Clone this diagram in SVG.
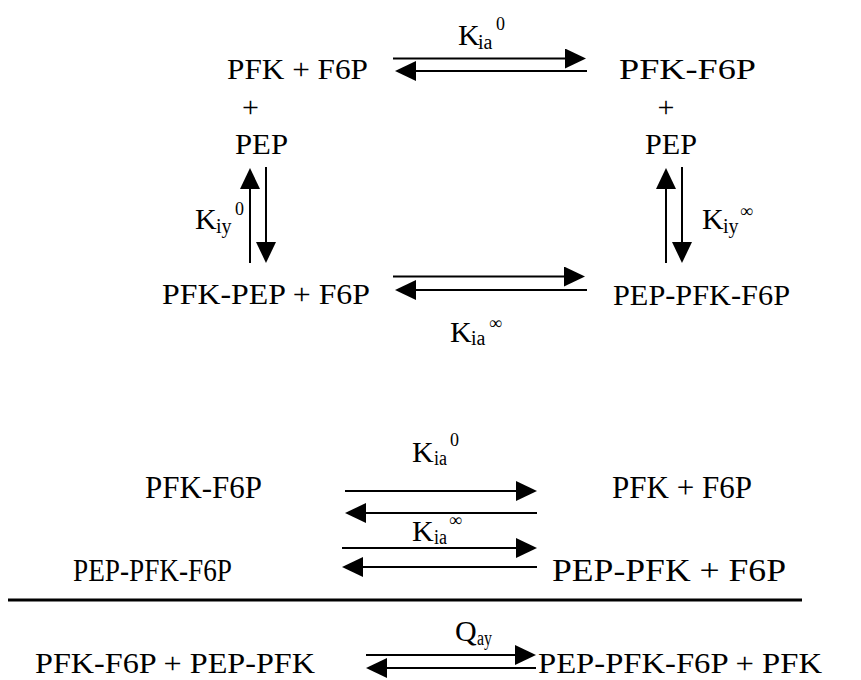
<svg xmlns="http://www.w3.org/2000/svg" width="861" height="680" viewBox="0 0 861 680">
<defs>
<style>
text{fill:#000;font-family:"Liberation Serif","Times New Roman",serif}
.t{font-size:30px}
.b{font-size:32px}
.s{font-size:20px}
.p{font-size:18px}
.c line{stroke:#000;stroke-width:2;fill:none}
</style>
<marker id="ah" markerUnits="userSpaceOnUse" viewBox="0 0 21 20" refX="6" refY="10" markerWidth="21" markerHeight="20" orient="auto">
<path d="M0,0 L21,10 L0,20 Z" fill="#000"/>
</marker>
</defs>
<rect width="861" height="680" fill="#fff"/>
<g id="n-pfk-f6p-top"><text class="t" x="227" y="79" textLength="141" lengthAdjust="spacingAndGlyphs">PFK + F6P</text></g>
<g id="n-pfkf6p-top"><text class="t" x="619" y="79" textLength="137" lengthAdjust="spacingAndGlyphs">PFK-F6P</text></g>
<g id="n-pep-left"><text class="t" x="250.5" y="116.5" text-anchor="middle">+</text><text class="t" x="235" y="154" textLength="53" lengthAdjust="spacingAndGlyphs">PEP</text></g>
<g id="n-pep-right"><text class="t" x="666" y="116.5" text-anchor="middle">+</text><text class="t" x="645" y="154" textLength="52" lengthAdjust="spacingAndGlyphs">PEP</text></g>
<g id="n-pfkpep-f6p"><text class="t" x="162" y="304" textLength="208" lengthAdjust="spacingAndGlyphs">PFK-PEP + F6P</text></g>
<g id="n-peppfkf6p"><text class="t" x="613" y="305" textLength="177" lengthAdjust="spacingAndGlyphs">PEP-PFK-F6P</text></g>

<g id="l-kia0-top"><text class="t" x="458" y="45">K</text><text class="s" x="478" y="49">ia</text><text class="p" x="496" y="30">0</text></g>
<g id="l-kiy0"><text class="t" x="195" y="229">K</text><text class="s" x="216" y="233">iy</text><text class="p" x="235" y="215">0</text></g>
<g id="l-kiyinf"><text class="t" x="702" y="229">K</text><text class="s" x="723" y="233">iy</text><text class="p" x="740" y="217">∞</text></g>
<g id="l-kiainf-top"><text class="t" x="450" y="342">K</text><text class="s" x="471" y="345">ia</text><text class="p" x="489" y="329">∞</text></g>

<g id="b-pfkf6p"><text class="b" x="145" y="498" textLength="117" lengthAdjust="spacingAndGlyphs">PFK-F6P</text></g>
<g id="b-pfk-f6p"><text class="b" x="612" y="498" textLength="140" lengthAdjust="spacingAndGlyphs">PFK + F6P</text></g>
<g id="b-peppfkf6p"><text class="b" x="73" y="581" textLength="159" lengthAdjust="spacingAndGlyphs">PEP-PFK-F6P</text></g>
<g id="b-peppfk-f6p"><text class="b" x="552" y="581" textLength="234" lengthAdjust="spacingAndGlyphs">PEP-PFK + F6P</text></g>
<g id="b-left-sum"><text class="t" x="35" y="673" textLength="280" lengthAdjust="spacingAndGlyphs">PFK-F6P + PEP-PFK</text></g>
<g id="b-right-sum"><text class="t" x="538" y="673" textLength="284" lengthAdjust="spacingAndGlyphs">PEP-PFK-F6P + PFK</text></g>
<g id="b-kia0"><text class="t" x="412" y="462">K</text><text class="s" x="434" y="465" textLength="13" lengthAdjust="spacingAndGlyphs">ia</text><text class="p" x="450" y="446">0</text></g>
<g id="b-kiainf"><text class="t" x="412" y="541">K</text><text class="s" x="434" y="544" textLength="13" lengthAdjust="spacingAndGlyphs">ia</text><text class="p" x="449" y="526">∞</text></g>
<g id="b-qay"><text class="t" x="455" y="641">Q</text><text class="s" x="477" y="645" textLength="15" lengthAdjust="spacingAndGlyphs">ay</text></g>

<g id="connectors" class="c">
<line x1="393" y1="58.5" x2="571" y2="58.5" marker-end="url(#ah)"/>
<line x1="587" y1="71" x2="410" y2="71" marker-end="url(#ah)"/>
<line x1="393" y1="276.5" x2="570" y2="276.5" marker-end="url(#ah)"/>
<line x1="587" y1="290" x2="410" y2="290" marker-end="url(#ah)"/>
<line x1="250" y1="263" x2="250" y2="183" marker-end="url(#ah)"/>
<line x1="266" y1="167" x2="266" y2="248" marker-end="url(#ah)"/>
<line x1="666" y1="263" x2="666" y2="183" marker-end="url(#ah)"/>
<line x1="682" y1="167" x2="682" y2="248" marker-end="url(#ah)"/>
<line x1="345" y1="491" x2="522" y2="491" marker-end="url(#ah)"/>
<line x1="537" y1="513" x2="360" y2="513" marker-end="url(#ah)"/>
<line x1="342" y1="548" x2="522" y2="548" marker-end="url(#ah)"/>
<line x1="537" y1="567" x2="357" y2="567" marker-end="url(#ah)"/>
<line x1="366" y1="655" x2="521" y2="655" marker-end="url(#ah)"/>
<line x1="536" y1="668" x2="381" y2="668" marker-end="url(#ah)"/>
<line x1="8" y1="600" x2="802" y2="600" style="stroke-width:3"/>
</g>
</svg>
